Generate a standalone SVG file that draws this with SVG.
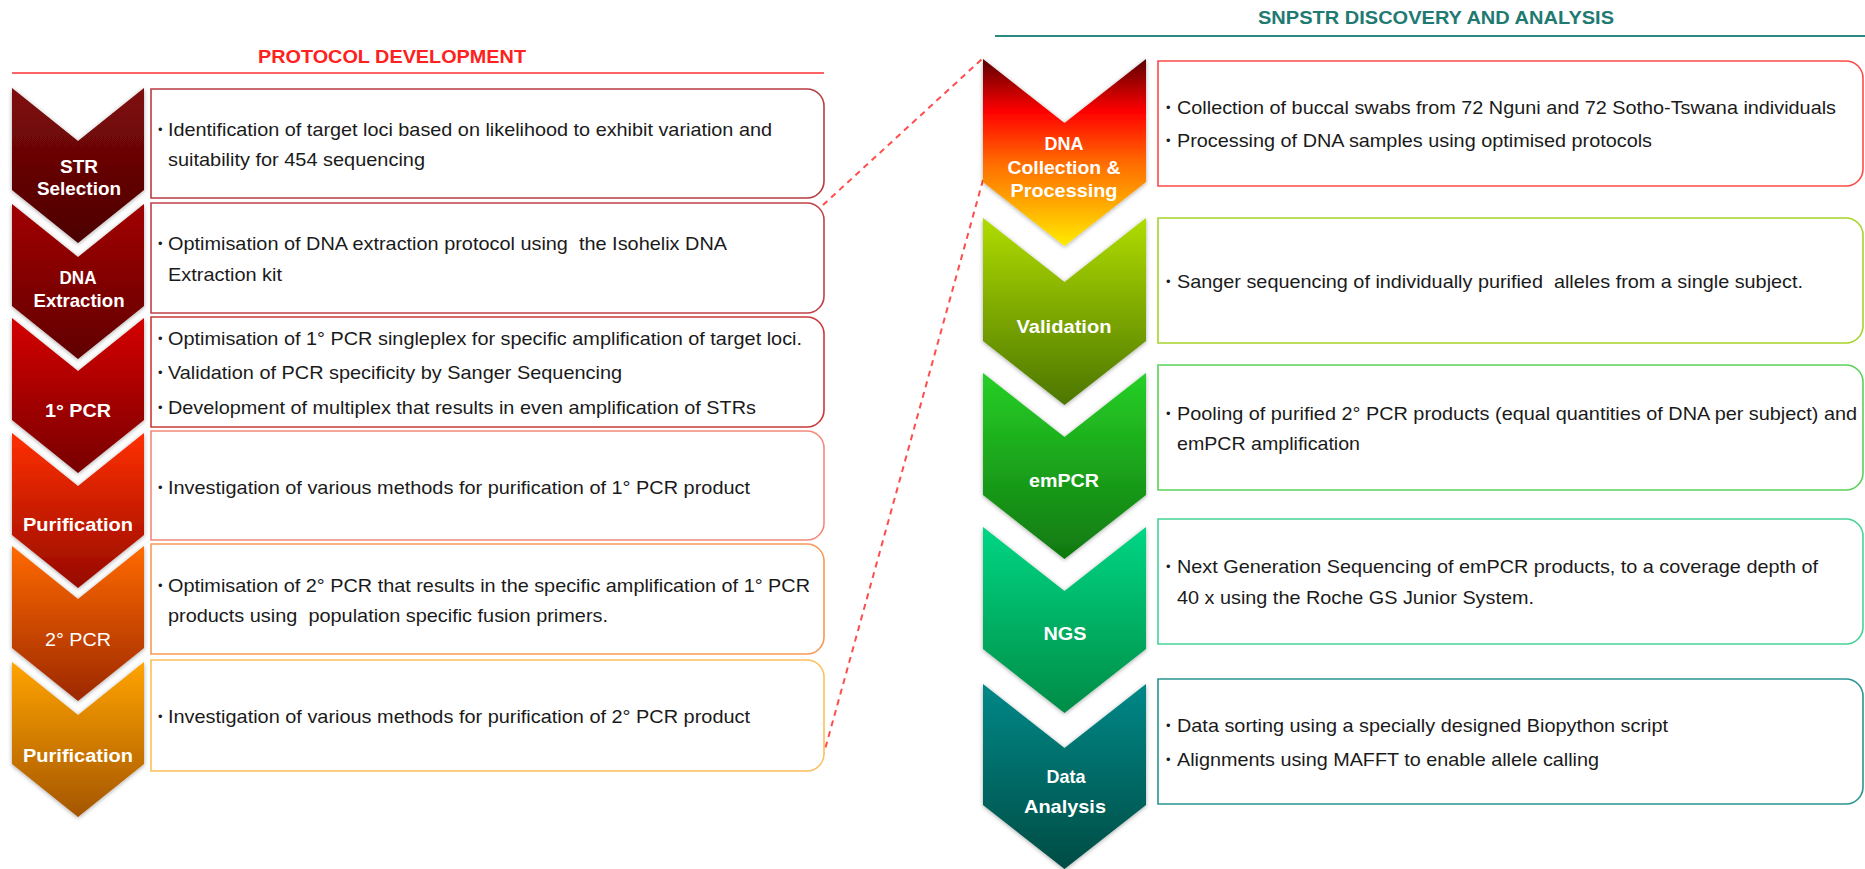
<svg xmlns="http://www.w3.org/2000/svg" width="1865" height="869" viewBox="0 0 1865 869">
  <style>
    .title { font-family: "Liberation Sans", Arial, sans-serif; font-size: 19px; font-weight: bold; }
    .lbl { font-family: "Liberation Sans", Arial, sans-serif; font-size: 18.5px; font-weight: bold; fill: #ffffff; text-anchor: middle; }
    .lbl-n { font-family: "Liberation Sans", Arial, sans-serif; font-size: 18.5px; fill: #ffffff; text-anchor: middle; }
    .txt { font-family: "Liberation Sans", Arial, sans-serif; font-size: 18.5px; fill: #1a1a1a; }
    .bul { font-family: "Liberation Sans", Arial, sans-serif; font-size: 13px; fill: #1a1a1a; }
    .box { fill: #ffffff; stroke-width: 1.6; }
    .chev { filter: url(#shadow); }
    .conn { fill: none; stroke: #ff4d4d; stroke-width: 2; stroke-dasharray: 6 5; }
  </style>
  <defs>
    <filter id="shadow" x="-20%" y="-20%" width="140%" height="140%">
      <feDropShadow dx="0" dy="1" stdDeviation="2" flood-color="#000000" flood-opacity="0.35"/>
    </filter>
    <!-- left column fills -->
    <linearGradient id="gL1" x1="0" y1="0" x2="0" y2="1"><stop offset="0" stop-color="#800a0a"/><stop offset="1" stop-color="#4c0000"/></linearGradient>
    <linearGradient id="gL2" x1="0" y1="0" x2="0" y2="1"><stop offset="0" stop-color="#a20000"/><stop offset="1" stop-color="#600000"/></linearGradient>
    <linearGradient id="gL3" x1="0" y1="0" x2="0" y2="1"><stop offset="0" stop-color="#d40000"/><stop offset="1" stop-color="#780000"/></linearGradient>
    <linearGradient id="gL4" x1="0" y1="0" x2="0" y2="1"><stop offset="0" stop-color="#ff3000"/><stop offset="1" stop-color="#960a00"/></linearGradient>
    <linearGradient id="gL5" x1="0" y1="0" x2="0" y2="1"><stop offset="0" stop-color="#ff6a00"/><stop offset="1" stop-color="#9c2800"/></linearGradient>
    <linearGradient id="gL6" x1="0" y1="0" x2="0" y2="1"><stop offset="0" stop-color="#ffa400"/><stop offset="1" stop-color="#a45600"/></linearGradient>
    <!-- right column fills -->
    <linearGradient id="gR1" x1="0" y1="0" x2="0" y2="1">
      <stop offset="0" stop-color="#5a0000"/><stop offset="0.28" stop-color="#ff0000"/>
      <stop offset="0.55" stop-color="#ff6a00"/><stop offset="0.8" stop-color="#ffb000"/><stop offset="1" stop-color="#ffec00"/>
    </linearGradient>
    <linearGradient id="gR2" x1="0" y1="0" x2="0" y2="1"><stop offset="0" stop-color="#b0dc00"/><stop offset="1" stop-color="#4c7600"/></linearGradient>
    <linearGradient id="gR3" x1="0" y1="0" x2="0" y2="1"><stop offset="0" stop-color="#26d026"/><stop offset="1" stop-color="#107810"/></linearGradient>
    <linearGradient id="gR4" x1="0" y1="0" x2="0" y2="1"><stop offset="0" stop-color="#00d684"/><stop offset="1" stop-color="#008c46"/></linearGradient>
    <linearGradient id="gR5" x1="0" y1="0" x2="0" y2="1"><stop offset="0" stop-color="#008888"/><stop offset="1" stop-color="#004c44"/></linearGradient>
  </defs>

  <rect width="1865" height="869" fill="#ffffff"/>

  <!-- section headings -->
  <g id="heading-protocol">
    <text class="title" x="258" y="63" fill="#ff2020" textLength="268" lengthAdjust="spacingAndGlyphs">PROTOCOL DEVELOPMENT</text>
    <line x1="12" y1="73" x2="824" y2="73" stroke="#ff3030" stroke-width="1.6"/>
  </g>
  <g id="heading-snpstr">
    <text class="title" x="1258" y="24" fill="#1f7a72" textLength="356" lengthAdjust="spacingAndGlyphs">SNPSTR DISCOVERY AND ANALYSIS</text>
    <line x1="995" y1="36" x2="1865" y2="36" stroke="#2a8a80" stroke-width="2"/>
  </g>

  <!-- dashed zoom connectors -->
  <g id="connectors">
    <line class="conn" x1="823" y1="205" x2="982" y2="59"/>
    <line class="conn" x1="983" y1="180" x2="824" y2="753"/>
  </g>

  <!-- left column: chevron steps (top y, height 155, notch depth 53) -->
  <g id="step-str-selection">
    <path class="chev" d="M12,88 L78,141 L144,88 L144,190 L78,243 L12,190 Z" fill="url(#gL1)"/>
    <text class="lbl" x="79" y="173" textLength="38" lengthAdjust="spacingAndGlyphs">STR</text>
    <text class="lbl" x="79" y="195" textLength="84" lengthAdjust="spacingAndGlyphs">Selection</text>
  </g>
  <g id="step-dna-extraction">
    <path class="chev" d="M12,204 L78,257 L144,204 L144,306 L78,359 L12,306 Z" fill="url(#gL2)"/>
    <text class="lbl" x="78" y="284" textLength="37" lengthAdjust="spacingAndGlyphs">DNA</text>
    <text class="lbl" x="79" y="307" textLength="91" lengthAdjust="spacingAndGlyphs">Extraction</text>
  </g>
  <g id="step-1-pcr">
    <path class="chev" d="M12,318 L78,371 L144,318 L144,420 L78,473 L12,420 Z" fill="url(#gL3)"/>
    <text class="lbl" x="78" y="417" textLength="66" lengthAdjust="spacingAndGlyphs">1° PCR</text>
  </g>
  <g id="step-purification-1">
    <path class="chev" d="M12,433 L78,486 L144,433 L144,535 L78,588 L12,535 Z" fill="url(#gL4)"/>
    <text class="lbl" x="78" y="531" textLength="110" lengthAdjust="spacingAndGlyphs">Purification</text>
  </g>
  <g id="step-2-pcr">
    <path class="chev" d="M12,546 L78,599 L144,546 L144,648 L78,701 L12,648 Z" fill="url(#gL5)"/>
    <text class="lbl-n" x="78" y="646" textLength="66" lengthAdjust="spacingAndGlyphs">2° PCR</text>
  </g>
  <g id="step-purification-2">
    <path class="chev" d="M12,662 L78,715 L144,662 L144,764 L78,817 L12,764 Z" fill="url(#gL6)"/>
    <text class="lbl" x="78" y="762" textLength="110" lengthAdjust="spacingAndGlyphs">Purification</text>
  </g>

  <!-- left column: detail boxes (square left corners, rounded right corners) -->
  <g id="box-str-selection">
    <path class="box" stroke="#b83c40" d="M151,89 H807 A17,17 0 0 1 824,106 V181 A17,17 0 0 1 807,198 H151 Z"/>
    <text class="bul" x="158" y="134">•</text>
    <text class="txt" x="168" y="136" textLength="604" lengthAdjust="spacingAndGlyphs">Identification of target loci based on likelihood to exhibit variation and</text>
    <text class="txt" x="168" y="166" textLength="257" lengthAdjust="spacingAndGlyphs">suitability for 454 sequencing</text>
  </g>
  <g id="box-dna-extraction">
    <path class="box" stroke="#bf4248" d="M151,203 H807 A17,17 0 0 1 824,220 V296 A17,17 0 0 1 807,313 H151 Z"/>
    <text class="bul" x="158" y="248">•</text>
    <text class="txt" x="168" y="250" textLength="559" lengthAdjust="spacingAndGlyphs" xml:space="preserve">Optimisation of DNA extraction protocol using  the Isohelix DNA</text>
    <text class="txt" x="168" y="281" textLength="114" lengthAdjust="spacingAndGlyphs">Extraction kit</text>
  </g>
  <g id="box-1-pcr">
    <path class="box" stroke="#cc3838" d="M151,317 H807 A17,17 0 0 1 824,334 V410 A17,17 0 0 1 807,427 H151 Z"/>
    <text class="bul" x="158" y="343">•</text>
    <text class="txt" x="168" y="345" textLength="634" lengthAdjust="spacingAndGlyphs">Optimisation of 1° PCR singleplex for specific amplification of target loci.</text>
    <text class="bul" x="158" y="377">•</text>
    <text class="txt" x="168" y="379" textLength="454" lengthAdjust="spacingAndGlyphs">Validation of PCR specificity by Sanger Sequencing</text>
    <text class="bul" x="158" y="412">•</text>
    <text class="txt" x="168" y="414" textLength="588" lengthAdjust="spacingAndGlyphs">Development of multiplex that results in even amplification of STRs</text>
  </g>
  <g id="box-purification-1">
    <path class="box" stroke="#f4887a" d="M151,431 H807 A17,17 0 0 1 824,448 V523 A17,17 0 0 1 807,540 H151 Z"/>
    <text class="bul" x="158" y="492">•</text>
    <text class="txt" x="168" y="494" textLength="582" lengthAdjust="spacingAndGlyphs">Investigation of various methods for purification of 1° PCR product</text>
  </g>
  <g id="box-2-pcr">
    <path class="box" stroke="#f89a58" d="M151,544 H807 A17,17 0 0 1 824,561 V637 A17,17 0 0 1 807,654 H151 Z"/>
    <text class="bul" x="158" y="590">•</text>
    <text class="txt" x="168" y="592" textLength="642" lengthAdjust="spacingAndGlyphs">Optimisation of 2° PCR that results in the specific amplification of 1° PCR</text>
    <text class="txt" x="168" y="622" textLength="440" lengthAdjust="spacingAndGlyphs" xml:space="preserve">products using  population specific fusion primers.</text>
  </g>
  <g id="box-purification-2">
    <path class="box" stroke="#fcbf5c" d="M151,660 H807 A17,17 0 0 1 824,677 V754 A17,17 0 0 1 807,771 H151 Z"/>
    <text class="bul" x="158" y="721">•</text>
    <text class="txt" x="168" y="723" textLength="582" lengthAdjust="spacingAndGlyphs">Investigation of various methods for purification of 2° PCR product</text>
  </g>

  <!-- right column: chevron steps (height 187, notch depth 64) -->
  <g id="step-dna-collection">
    <path class="chev" d="M983,59 L1064.5,123 L1146,59 L1146,182 L1064.5,246 L983,182 Z" fill="url(#gR1)"/>
    <text class="lbl" x="1064" y="150" textLength="39" lengthAdjust="spacingAndGlyphs">DNA</text>
    <text class="lbl" x="1064" y="174" textLength="113" lengthAdjust="spacingAndGlyphs">Collection &amp;</text>
    <text class="lbl" x="1064" y="197" textLength="107" lengthAdjust="spacingAndGlyphs">Processing</text>
  </g>
  <g id="step-validation">
    <path class="chev" d="M983,218 L1064.5,282 L1146,218 L1146,341 L1064.5,405 L983,341 Z" fill="url(#gR2)"/>
    <text class="lbl" x="1064" y="333" textLength="95" lengthAdjust="spacingAndGlyphs">Validation</text>
  </g>
  <g id="step-empcr">
    <path class="chev" d="M983,373 L1064.5,437 L1146,373 L1146,495 L1064.5,559 L983,495 Z" fill="url(#gR3)"/>
    <text class="lbl" x="1064" y="487" textLength="70" lengthAdjust="spacingAndGlyphs">emPCR</text>
  </g>
  <g id="step-ngs">
    <path class="chev" d="M983,527 L1064.5,591 L1146,527 L1146,649 L1064.5,713 L983,649 Z" fill="url(#gR4)"/>
    <text class="lbl" x="1065" y="640" textLength="43" lengthAdjust="spacingAndGlyphs">NGS</text>
  </g>
  <g id="step-data-analysis">
    <path class="chev" d="M983,684 L1064.5,748 L1146,684 L1146,805 L1064.5,869 L983,805 Z" fill="url(#gR5)"/>
    <text class="lbl" x="1066" y="783" textLength="39" lengthAdjust="spacingAndGlyphs">Data</text>
    <text class="lbl" x="1065" y="813" textLength="82" lengthAdjust="spacingAndGlyphs">Analysis</text>
  </g>

  <!-- right column: detail boxes -->
  <g id="box-dna-collection">
    <path class="box" stroke="#ff4a4a" d="M1158,61 H1846 A17,17 0 0 1 1863,78 V169 A17,17 0 0 1 1846,186 H1158 Z"/>
    <text class="bul" x="1166" y="112">•</text>
    <text class="txt" x="1177" y="114" textLength="659" lengthAdjust="spacingAndGlyphs">Collection of buccal swabs from 72 Nguni and 72 Sotho-Tswana individuals</text>
    <text class="bul" x="1166" y="145">•</text>
    <text class="txt" x="1177" y="147" textLength="475" lengthAdjust="spacingAndGlyphs">Processing of DNA samples using optimised protocols</text>
  </g>
  <g id="box-validation">
    <path class="box" stroke="#a6d42a" d="M1158,218 H1846 A17,17 0 0 1 1863,235 V326 A17,17 0 0 1 1846,343 H1158 Z"/>
    <text class="bul" x="1166" y="286">•</text>
    <text class="txt" x="1177" y="288" textLength="626" lengthAdjust="spacingAndGlyphs" xml:space="preserve">Sanger sequencing of individually purified  alleles from a single subject.</text>
  </g>
  <g id="box-empcr">
    <path class="box" stroke="#5ad25a" d="M1158,365 H1846 A17,17 0 0 1 1863,382 V473 A17,17 0 0 1 1846,490 H1158 Z"/>
    <text class="bul" x="1166" y="418">•</text>
    <text class="txt" x="1177" y="420" textLength="680" lengthAdjust="spacingAndGlyphs">Pooling of purified 2° PCR products (equal quantities of DNA per subject) and</text>
    <text class="txt" x="1177" y="450" textLength="183" lengthAdjust="spacingAndGlyphs">emPCR amplification</text>
  </g>
  <g id="box-ngs">
    <path class="box" stroke="#46d496" d="M1158,519 H1846 A17,17 0 0 1 1863,536 V627 A17,17 0 0 1 1846,644 H1158 Z"/>
    <text class="bul" x="1166" y="571">•</text>
    <text class="txt" x="1177" y="573" textLength="641" lengthAdjust="spacingAndGlyphs">Next Generation Sequencing of emPCR products, to a coverage depth of</text>
    <text class="txt" x="1177" y="604" textLength="357" lengthAdjust="spacingAndGlyphs">40 x using the Roche GS Junior System.</text>
  </g>
  <g id="box-data-analysis">
    <path class="box" stroke="#2a9490" d="M1158,679 H1846 A17,17 0 0 1 1863,696 V787 A17,17 0 0 1 1846,804 H1158 Z"/>
    <text class="bul" x="1166" y="730">•</text>
    <text class="txt" x="1177" y="732" textLength="491" lengthAdjust="spacingAndGlyphs">Data sorting using a specially designed Biopython script</text>
    <text class="bul" x="1166" y="764">•</text>
    <text class="txt" x="1177" y="766" textLength="422" lengthAdjust="spacingAndGlyphs">Alignments using MAFFT to enable allele calling</text>
  </g>
</svg>
